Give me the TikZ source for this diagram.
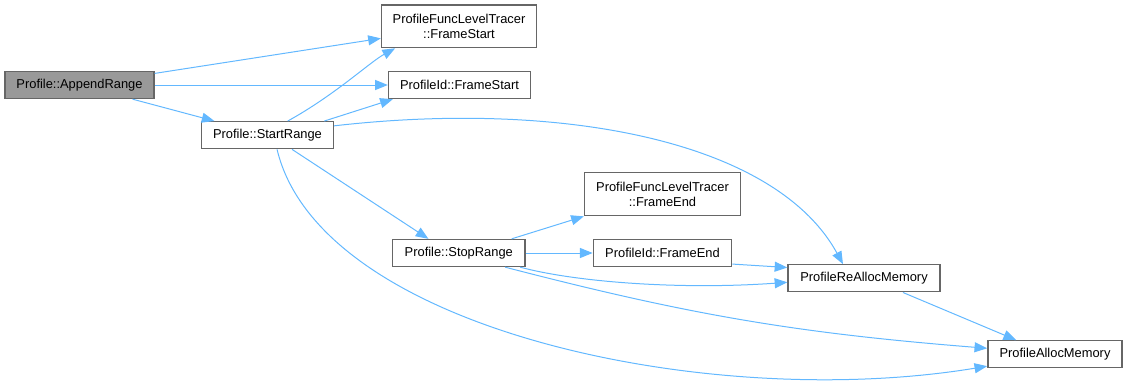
\documentclass[tikz,border=0pt]{standalone}
\usepackage{fontspec}
\setmainfont{Liberation Sans}
\usetikzlibrary{arrows.meta}
\definecolor{edgeblue}{HTML}{63B8FF}
\definecolor{boxgray}{HTML}{666666}
\definecolor{curfill}{HTML}{999999}
\begin{document}
\begin{tikzpicture}[x=0.75pt,y=-0.75pt,
		fn/.style={draw=boxgray,line width=1pt,fill=white,align=center,inner sep=0pt,
			minimum height=20.25pt,font=\fontsize{9.66}{11.5}\selectfont},
		call/.style={draw=edgeblue,line width=0.75pt,-{Triangle[length=9.5pt,width=7.5pt]}}]
			\useasboundingbox (0,0) rectangle (1128,382);
			\node[fn,fill=curfill,minimum width=111.75pt] (append) at (79.5,85) {Profile::AppendRange};
			\node[fn,minimum width=116.25pt,minimum height=32pt] (fltstart) at (459,26.3) {ProfileFuncLevelTracer\\::FrameStart};
			\node[fn,minimum width=106.5pt] (pidstart) at (459.5,85) {ProfileId::FrameStart};
			\node[fn,minimum width=99pt] (start) at (267.5,135.2) {Profile::StartRange};
			\node[fn,minimum width=117pt,minimum height=32.25pt] (fltend) at (662.5,194.2) {ProfileFuncLevelTracer\\::FrameEnd};
			\node[fn,minimum width=103.8pt] (pidend) at (662.5,253) {ProfileId::FrameEnd};
			\node[fn,minimum width=99.2pt] (stop) at (458.8,253) {Profile::StopRange};
			\node[fn,minimum width=114pt] (realloc) at (864,278.3) {ProfileReAllocMemory};
			\node[fn,minimum width=100.7pt] (alloc) at (1055,354.2) {ProfileAllocMemory};
			\draw[call] (append) -- (fltstart);
			\draw[call] (append) -- (pidstart);
			\draw[call] (append) -- (start);
			\draw[call] (start.35) .. controls (335,95) and (370,62) .. (fltstart.199);
			\draw[call] (start.14) -- (pidstart.192);
			\draw[call] (start.8.5) .. controls (560,100) and (775,140) .. (realloc.146);
			\draw[call] (start.-30) -- (stop.155);
			\draw[call] (start.-56) .. controls (320,330) and (710,412) .. (alloc.190);
			\draw[call] (stop.15) -- (fltend.south west);
			\draw[call] (stop) -- (pidend);
			\draw[call] (stop.-13.5) .. controls (575,282) and (680,290) .. (realloc.183);
			\draw[call] (stop.-17) to[bend right=5] (alloc.175);
			\draw[call] (pidend.-9) -- (realloc.172);
			\draw[call] (realloc.-20.6) -- (alloc.160);
		\end{tikzpicture}
\end{document}
